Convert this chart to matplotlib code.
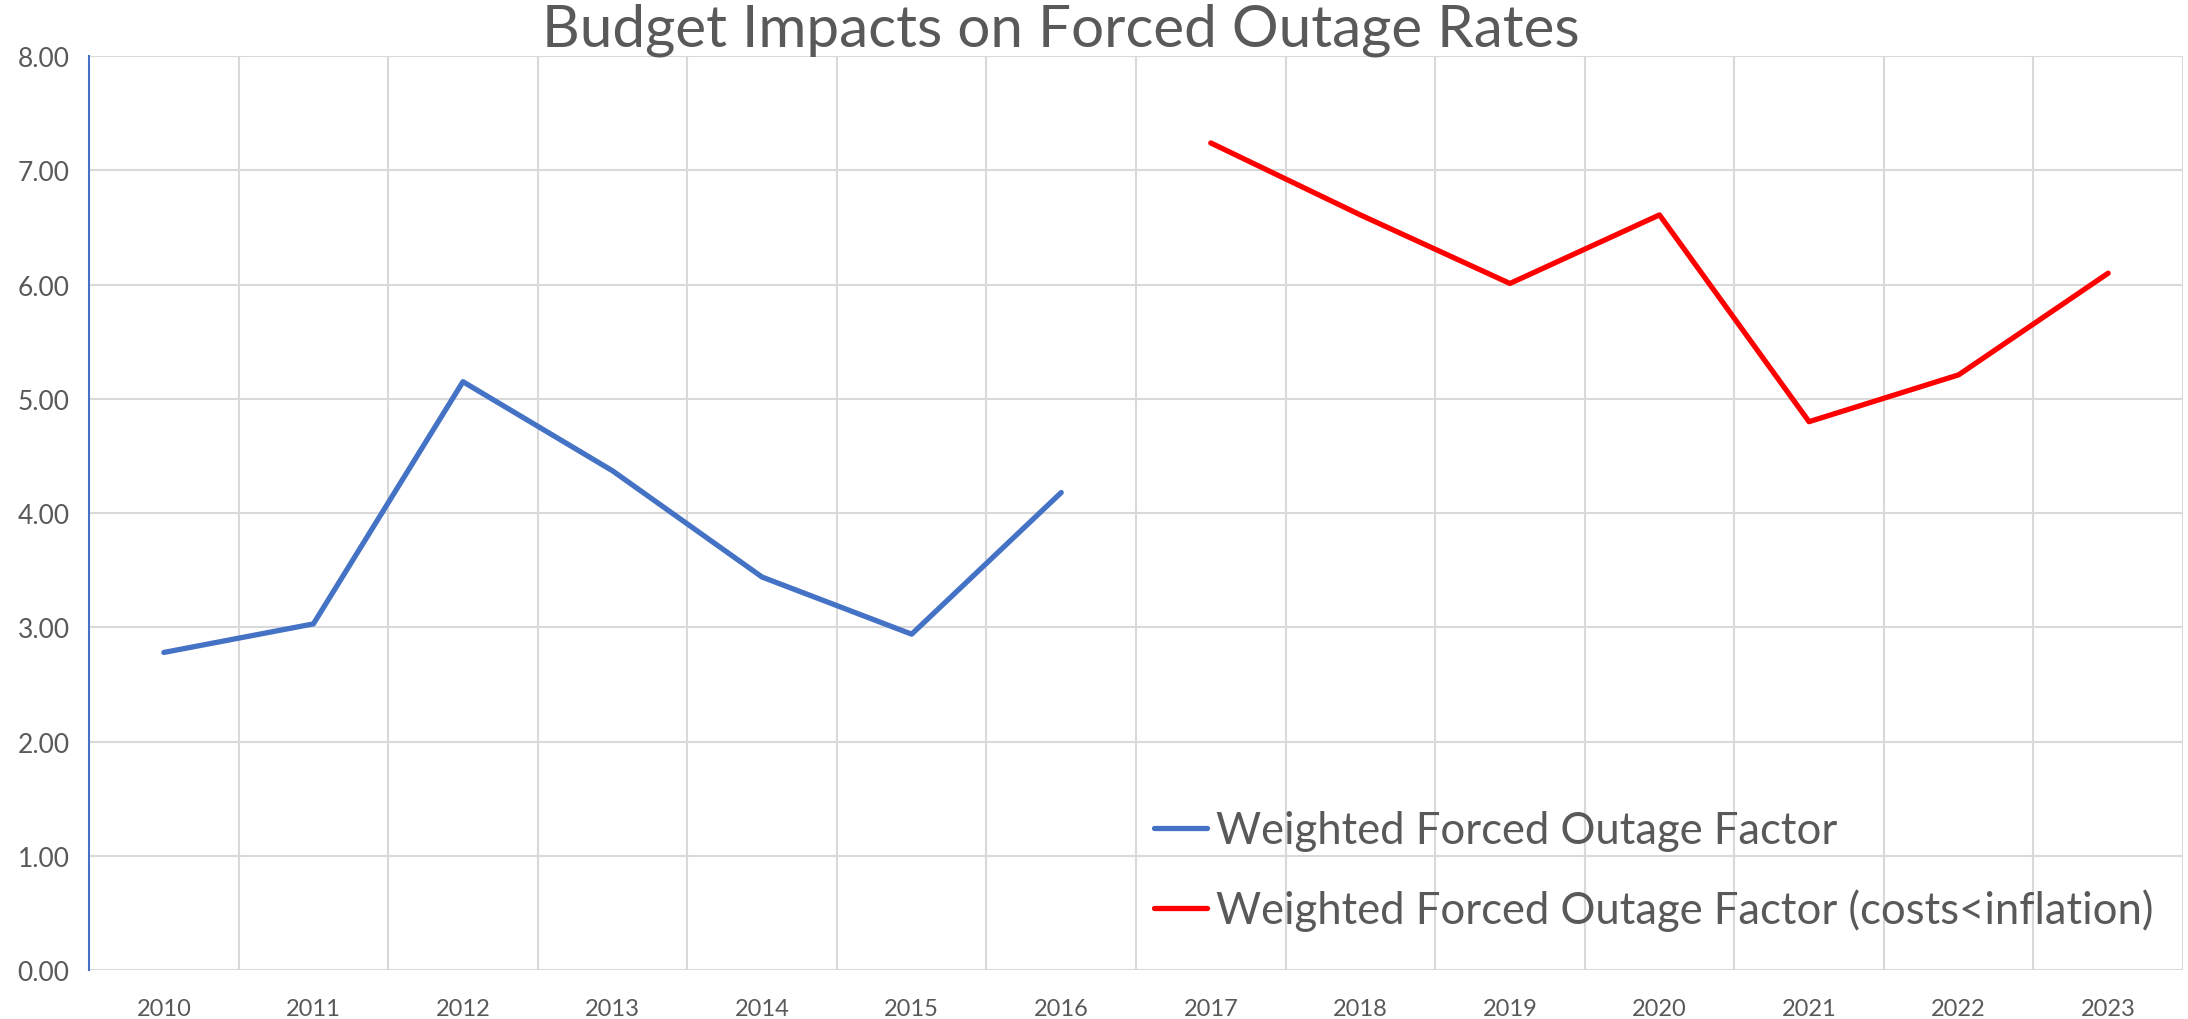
import matplotlib.pyplot as plt
import numpy as np

# data
years = ['2010', '2011', '2012', '2013', '2014', '2015', '2016',
         '2017', '2018', '2019', '2020', '2021', '2022', '2023']
blue_years = years[:7]
blue_vals = [2.78, 3.03, 5.15, 4.37, 3.44, 2.94, 4.18]
red_years = years[7:]
red_vals = [7.24, 6.61, 6.01, 6.61, 4.80, 5.21, 6.10]
yticks = [0, 1, 2, 3, 4, 5, 6, 7, 8]

plt.rcParams['font.family'] = ['Lato', 'DejaVu Sans']
text_col = '#595959'
grid_col = '#D9D9D9'

fig = plt.figure(figsize=(21.88, 10.20), dpi=100)
ax = fig.add_axes([0.0407, 0.048, 0.957, 0.896])

x = np.arange(len(years))
xb = [years.index(y) for y in blue_years]
xr = [years.index(y) for y in red_years]

ax.plot(xb, blue_vals, color='#4472C4', lw=3.8, solid_capstyle='round',
        label='Weighted Forced Outage Factor', zorder=3)
ax.plot(xr, red_vals, color='#FF0000', lw=3.8, solid_capstyle='round',
        label='Weighted Forced Outage Factor (costs<inflation)', zorder=3)

ax.set_xlim(-0.5, len(years) - 0.5)
ax.set_ylim(0, 8)
ax.set_xticks(x)
ax.set_xticklabels(years)
ax.set_xticks(np.arange(-0.5, len(years) + 0.5, 1), minor=True)
ax.set_yticks(yticks)
ax.set_yticklabels(['%.2f' % v for v in yticks])

ax.grid(which='minor', axis='x', color=grid_col, lw=1.5)
ax.grid(which='major', axis='y', color=grid_col, lw=1.5)
ax.set_axisbelow(True)
ax.tick_params(which='both', length=0)
ax.tick_params(axis='x', pad=20, labelsize=17, labelcolor=text_col)
ax.tick_params(axis='y', pad=14, labelsize=19, labelcolor=text_col)

for s in ['top', 'right', 'bottom']:
    ax.spines[s].set_visible(False)
ax.spines['left'].set_color('#4472C4')
ax.spines['left'].set_linewidth(1.5)

fig.text(0.485, 0.97, 'Budget Impacts on Forced Outage Rates',
         ha='center', va='center', fontsize=42, color=text_col)

leg = ax.legend(loc='upper left', bbox_to_anchor=(0.5195, 0.222),
                bbox_transform=fig.transFigure, frameon=False,
                fontsize=31.4, handlelength=1.22, handletextpad=0.2,
                labelspacing=0.86, borderaxespad=0)
for t in leg.get_texts():
    t.set_color(text_col)

fig.savefig('out.png', dpi=100)
